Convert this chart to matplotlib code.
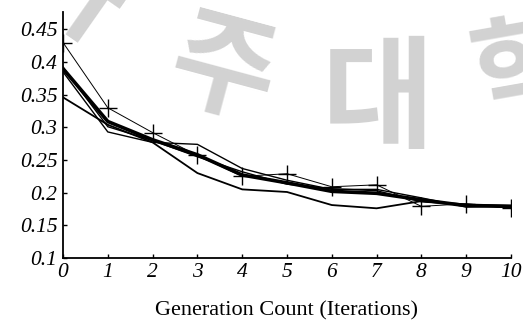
import matplotlib
matplotlib.use("Agg")
import matplotlib.pyplot as plt
import numpy as np

gens = np.arange(0, 11)
plus_line = [0.430, 0.330, 0.292, 0.257, 0.225, 0.229, 0.209, 0.212, 0.179, 0.183, 0.176]
thick_line = [0.390, 0.309, 0.281, 0.258, 0.227, 0.215, 0.202, 0.199, 0.189, 0.180, 0.179]
thin_low = [0.346, 0.304, 0.277, 0.230, 0.205, 0.201, 0.181, 0.176, 0.187, 0.182, 0.180]
thin_mid = [0.385, 0.293, 0.277, 0.274, 0.237, 0.219, 0.205, 0.205, 0.192, 0.178, 0.180]
thin_top = [0.392, 0.301, 0.280, 0.255, 0.232, 0.213, 0.206, 0.203, 0.186, 0.181, 0.178]

xticks = list(range(11))
yticks = [0.1, 0.15, 0.2, 0.25, 0.3, 0.35, 0.4, 0.45]
ytick_labels = ["0.1", "0.15", "0.2", "0.25", "0.3", "0.35", "0.4", "0.45"]

fig = plt.figure(figsize=(5.23, 3.2), dpi=100)
ax = fig.add_axes([0.1205, 0.194, 0.8565, 0.769])
ax.patch.set_alpha(0)

# watermark (아주대학교)
wm = dict(color="#d2d2d2", fontfamily="Noto Sans CJK KR", fontweight="bold",
          ha="center", va="center", zorder=-5)
fig.text(0.14, 1.03, "아", fontsize=80, rotation=-35, **wm)
fig.text(0.425, 0.77, "주", fontsize=82, rotation=-15, **wm)
fig.text(0.723, 0.68, "대", fontsize=88, **wm)
fig.text(1.0, 0.77, "학", fontsize=80, rotation=10, **wm)

ax.plot(gens, thin_low, color="black", lw=1.3)
ax.plot(gens, thin_mid, color="black", lw=1.0)
ax.plot(gens, thin_top, color="black", lw=1.0)
ax.plot(gens, thick_line, color="black", lw=2.6)
ax.plot(gens, plus_line, color="black", lw=0.7, marker="+", ms=13, mew=1.0)

ax.set_xlim(0, 10)
ax.set_ylim(0.1, 0.477)
ax.spines["top"].set_visible(False)
ax.spines["right"].set_visible(False)
ax.spines["left"].set_linewidth(1.3)
ax.spines["bottom"].set_linewidth(1.3)
ax.set_xticks(xticks)
ax.set_xticklabels([str(t) for t in xticks], fontfamily="Liberation Serif",
                   fontstyle="italic", fontsize=15.5)
ax.set_yticks(yticks)
ax.set_yticklabels(ytick_labels, fontfamily="Liberation Serif",
                   fontstyle="italic", fontsize=15.5)
ax.tick_params(direction="in", length=3, width=1, pad=4)
ax.set_xlabel("Generation Count (Iterations)", fontfamily="Liberation Serif",
              fontsize=16, va="center")
ax.xaxis.set_label_coords(0.5, -0.215)

fig.savefig("out.png", dpi=100)
